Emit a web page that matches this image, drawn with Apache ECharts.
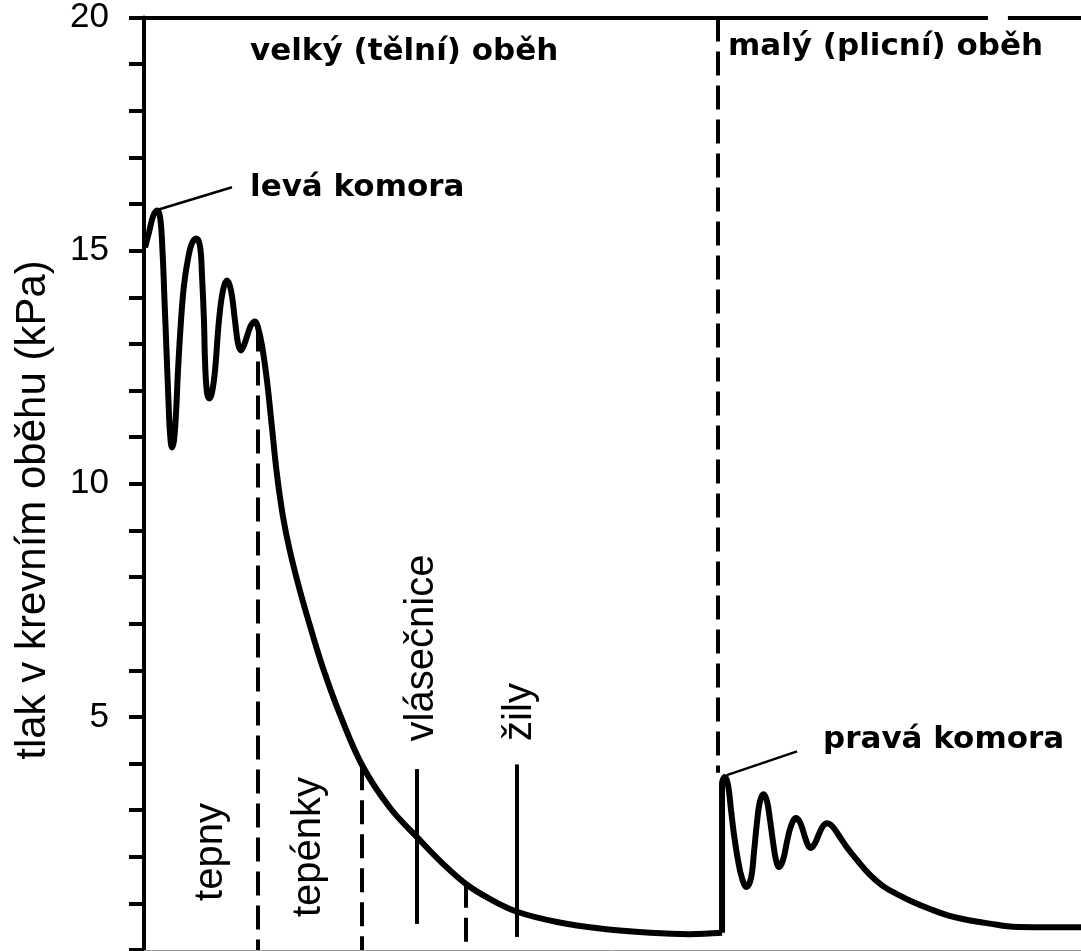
<!DOCTYPE html>
<html>
<head>
<meta charset="utf-8">
<script src="https://cdn.jsdelivr.net/npm/echarts@6/dist/echarts.min.js"></script>
<style>
html,body{margin:0;padding:0;background:#fff;}
#chart{width:1081px;height:951px;}
</style>
</head>
<body>
<div id="chart"></div>
<script>
// ---- data (x: relative position along the circulation, 0-100; y: pressure in kPa) ----
const xSystemic = [0.11, 0.53, 0.96, 1.39, 1.71, 1.97, 2.19, 2.40, 2.61, 2.77, 2.99, 3.20, 3.42, 3.63, 3.95, 4.27, 4.70, 5.12, 5.60, 5.98, 6.19, 6.40, 6.51, 6.72, 6.99, 7.26, 7.58, 8.00, 8.43, 8.86, 9.28, 9.71, 10.03, 10.35, 10.67, 11.10, 11.42, 11.85, 12.17, 12.59, 13.13, 13.66, 14.19, 14.83, 15.58, 16.65, 17.72, 19.10, 20.92, 23.37, 26.25, 29.14, 31.80, 34.47, 37.14, 39.81, 44.08, 48.67, 54.0, 58.27, 61.69];
const ySystemic = [15.07, 15.39, 15.73, 15.86, 15.73, 15.01, 13.93, 12.86, 11.79, 11.10, 10.78, 10.93, 11.53, 12.43, 13.50, 14.26, 14.83, 15.16, 15.26, 15.09, 14.47, 13.50, 12.65, 11.96, 11.83, 11.96, 12.43, 13.50, 14.15, 14.36, 14.15, 13.50, 13.01, 12.86, 12.97, 13.23, 13.40, 13.48, 13.35, 12.97, 12.20, 11.20, 10.20, 9.30, 8.55, 7.70, 6.95, 6.05, 5.05, 3.93, 3.05, 2.42, 1.87, 1.40, 1.07, 0.82, 0.60, 0.46, 0.37, 0.34, 0.37];
const xPulmonary = [61.69, 61.69, 62.00, 62.33, 62.65, 62.97, 63.39, 63.82, 64.30, 64.78, 65.10, 65.42, 65.74, 66.12, 66.49, 66.81, 67.13, 67.45, 67.77, 68.20, 68.62, 69.05, 69.58, 70.01, 70.44, 70.86, 71.18, 71.61, 72.04, 72.47, 72.89, 73.43, 74.28, 75.13, 76.09, 77.48, 78.87, 80.36, 82.07, 83.88, 85.70, 87.51, 89.22, 91.04, 92.74, 95.62, 100];
const yPulmonary = [0.37, 3.58, 3.71, 3.54, 3.00, 2.47, 1.93, 1.54, 1.35, 1.54, 2.10, 2.74, 3.19, 3.34, 3.19, 2.79, 2.32, 1.93, 1.78, 1.93, 2.32, 2.66, 2.83, 2.74, 2.49, 2.25, 2.19, 2.29, 2.49, 2.66, 2.72, 2.66, 2.42, 2.17, 1.93, 1.61, 1.37, 1.20, 1.03, 0.88, 0.75, 0.66, 0.60, 0.54, 0.50, 0.49, 0.49];
// section boundaries (x) and where they meet the curve (y)
const boundaryX = [12.17, 23.27, 34.36];
const boundaryTopY = [13.35, 3.94, 1.42];
const circuitBoundaryX = 61.26;
const circuitBoundaryBottomY = 3.8;
// vessel markers (solid lines)
const markerX = [29.14, 39.8];
const markerTopY = [3.88, 3.98];
const markerBottomY = [0.56, 0.28];
// ventricle pointer lines
const pointerLeft = [[1.39, 15.87], [9.39, 16.36]];
const pointerRight = [[62.2, 3.75], [69.7, 4.26]];
// top frame (with a small gap)
const frameTop = [[0, 90.07], [92.2, 100]];
const yTicks = [0, 5, 10, 15, 20];

const zip = (xs, ys) => xs.map((x, i) => [x, ys[i]]);

const dashStyle = {color: '#000', width: 4, type: [24, 10]};
const solidStyle = {color: '#000', width: 4, type: 'solid'};
const thinStyle = {color: '#000', width: 2.5, type: 'solid'};

const markLines = [];
boundaryX.forEach((x, i) => {
  markLines.push([{coord: [x, boundaryTopY[i]], lineStyle: dashStyle}, {coord: [x, 0]}]);
});
markLines.push([{coord: [circuitBoundaryX, 20], lineStyle: dashStyle}, {coord: [circuitBoundaryX, circuitBoundaryBottomY]}]);
markerX.forEach((x, i) => {
  markLines.push([{coord: [x, markerTopY[i]], lineStyle: solidStyle}, {coord: [x, markerBottomY[i]]}]);
});
markLines.push([{coord: pointerLeft[0], lineStyle: thinStyle}, {coord: pointerLeft[1]}]);
markLines.push([{coord: pointerRight[0], lineStyle: thinStyle}, {coord: pointerRight[1]}]);
frameTop.forEach(seg => {
  markLines.push([{coord: [seg[0], 20], lineStyle: {color: '#000', width: 4, type: 'solid'}}, {coord: [seg[1], 20]}]);
});

const hFont = {fontFamily: 'DejaVu Sans', fontWeight: 'bold', fontSize: 31, fill: '#000'};
const rFont = {fontFamily: 'Liberation Sans', fontWeight: 'normal', fontSize: 40, fill: '#000'};

function htext(text, x, y) {
  return {type: 'text', x: x, y: y, style: Object.assign({text: text, textAlign: 'left', textVerticalAlign: 'middle'}, hFont)};
}
function vtext(text, x, y, font) {
  return {type: 'text', x: x, y: y, rotation: Math.PI / 2, style: Object.assign({text: text, textAlign: 'center', textVerticalAlign: 'middle'}, font || rFont)};
}

const chart = echarts.init(document.getElementById('chart'), null, {renderer: 'canvas'});
chart.setOption({
  animation: false,
  backgroundColor: '#fff',
  grid: {left: 144, right: 0, top: 17, bottom: 1, containLabel: false},
  xAxis: {
    type: 'value', min: 0, max: 100,
    axisLine: {show: true, lineStyle: {color: '#9a9a9a', width: 1}},
    axisTick: {show: false}, axisLabel: {show: false}, splitLine: {show: false}
  },
  yAxis: {
    type: 'value', min: 0, max: 20, interval: 5,
    axisLine: {show: true, onZero: false, lineStyle: {color: '#000', width: 4}},
    axisTick: {show: true, inside: false, length: 15, lineStyle: {color: '#000', width: 4}},
    minorTick: {show: true, splitNumber: 5, length: 15, lineStyle: {color: '#000', width: 4}},
    axisLabel: {
      show: true, margin: 35, color: '#000', fontFamily: 'Liberation Sans', fontSize: 35,
      formatter: v => (yTicks.indexOf(v) > 0 ? String(v) : '')
    },
    splitLine: {show: false}
  },
  series: [
    {
      name: 'velký oběh', type: 'line', data: zip(xSystemic, ySystemic),
      smooth: 0.4, symbol: 'none', lineStyle: {color: '#000', width: 6}, z: 5,
      markLine: {silent: true, symbol: ['none', 'none'], label: {show: false}, animation: false, data: markLines}
    },
    {
      name: 'malý oběh', type: 'line', data: zip(xPulmonary, yPulmonary),
      smooth: 0.4, symbol: 'none', lineStyle: {color: '#000', width: 6}, z: 5
    }
  ],
  graphic: [
    htext('velký (tělní) oběh', 250, 52),
    htext('malý (plicní) oběh', 728, 47),
    htext('levá komora', 250, 188),
    htext('pravá komora', 823, 740),
    vtext('tepny', 211, 852),
    vtext('tepénky', 309, 847),
    vtext('vlásečnice', 422, 648),
    vtext('žily', 520, 712),
    vtext('tlak v krevním oběhu (kPa)', 33, 510, {fontFamily: 'Liberation Sans', fontSize: 42, fill: '#000'})
  ]
});
</script>
</body>
</html>
